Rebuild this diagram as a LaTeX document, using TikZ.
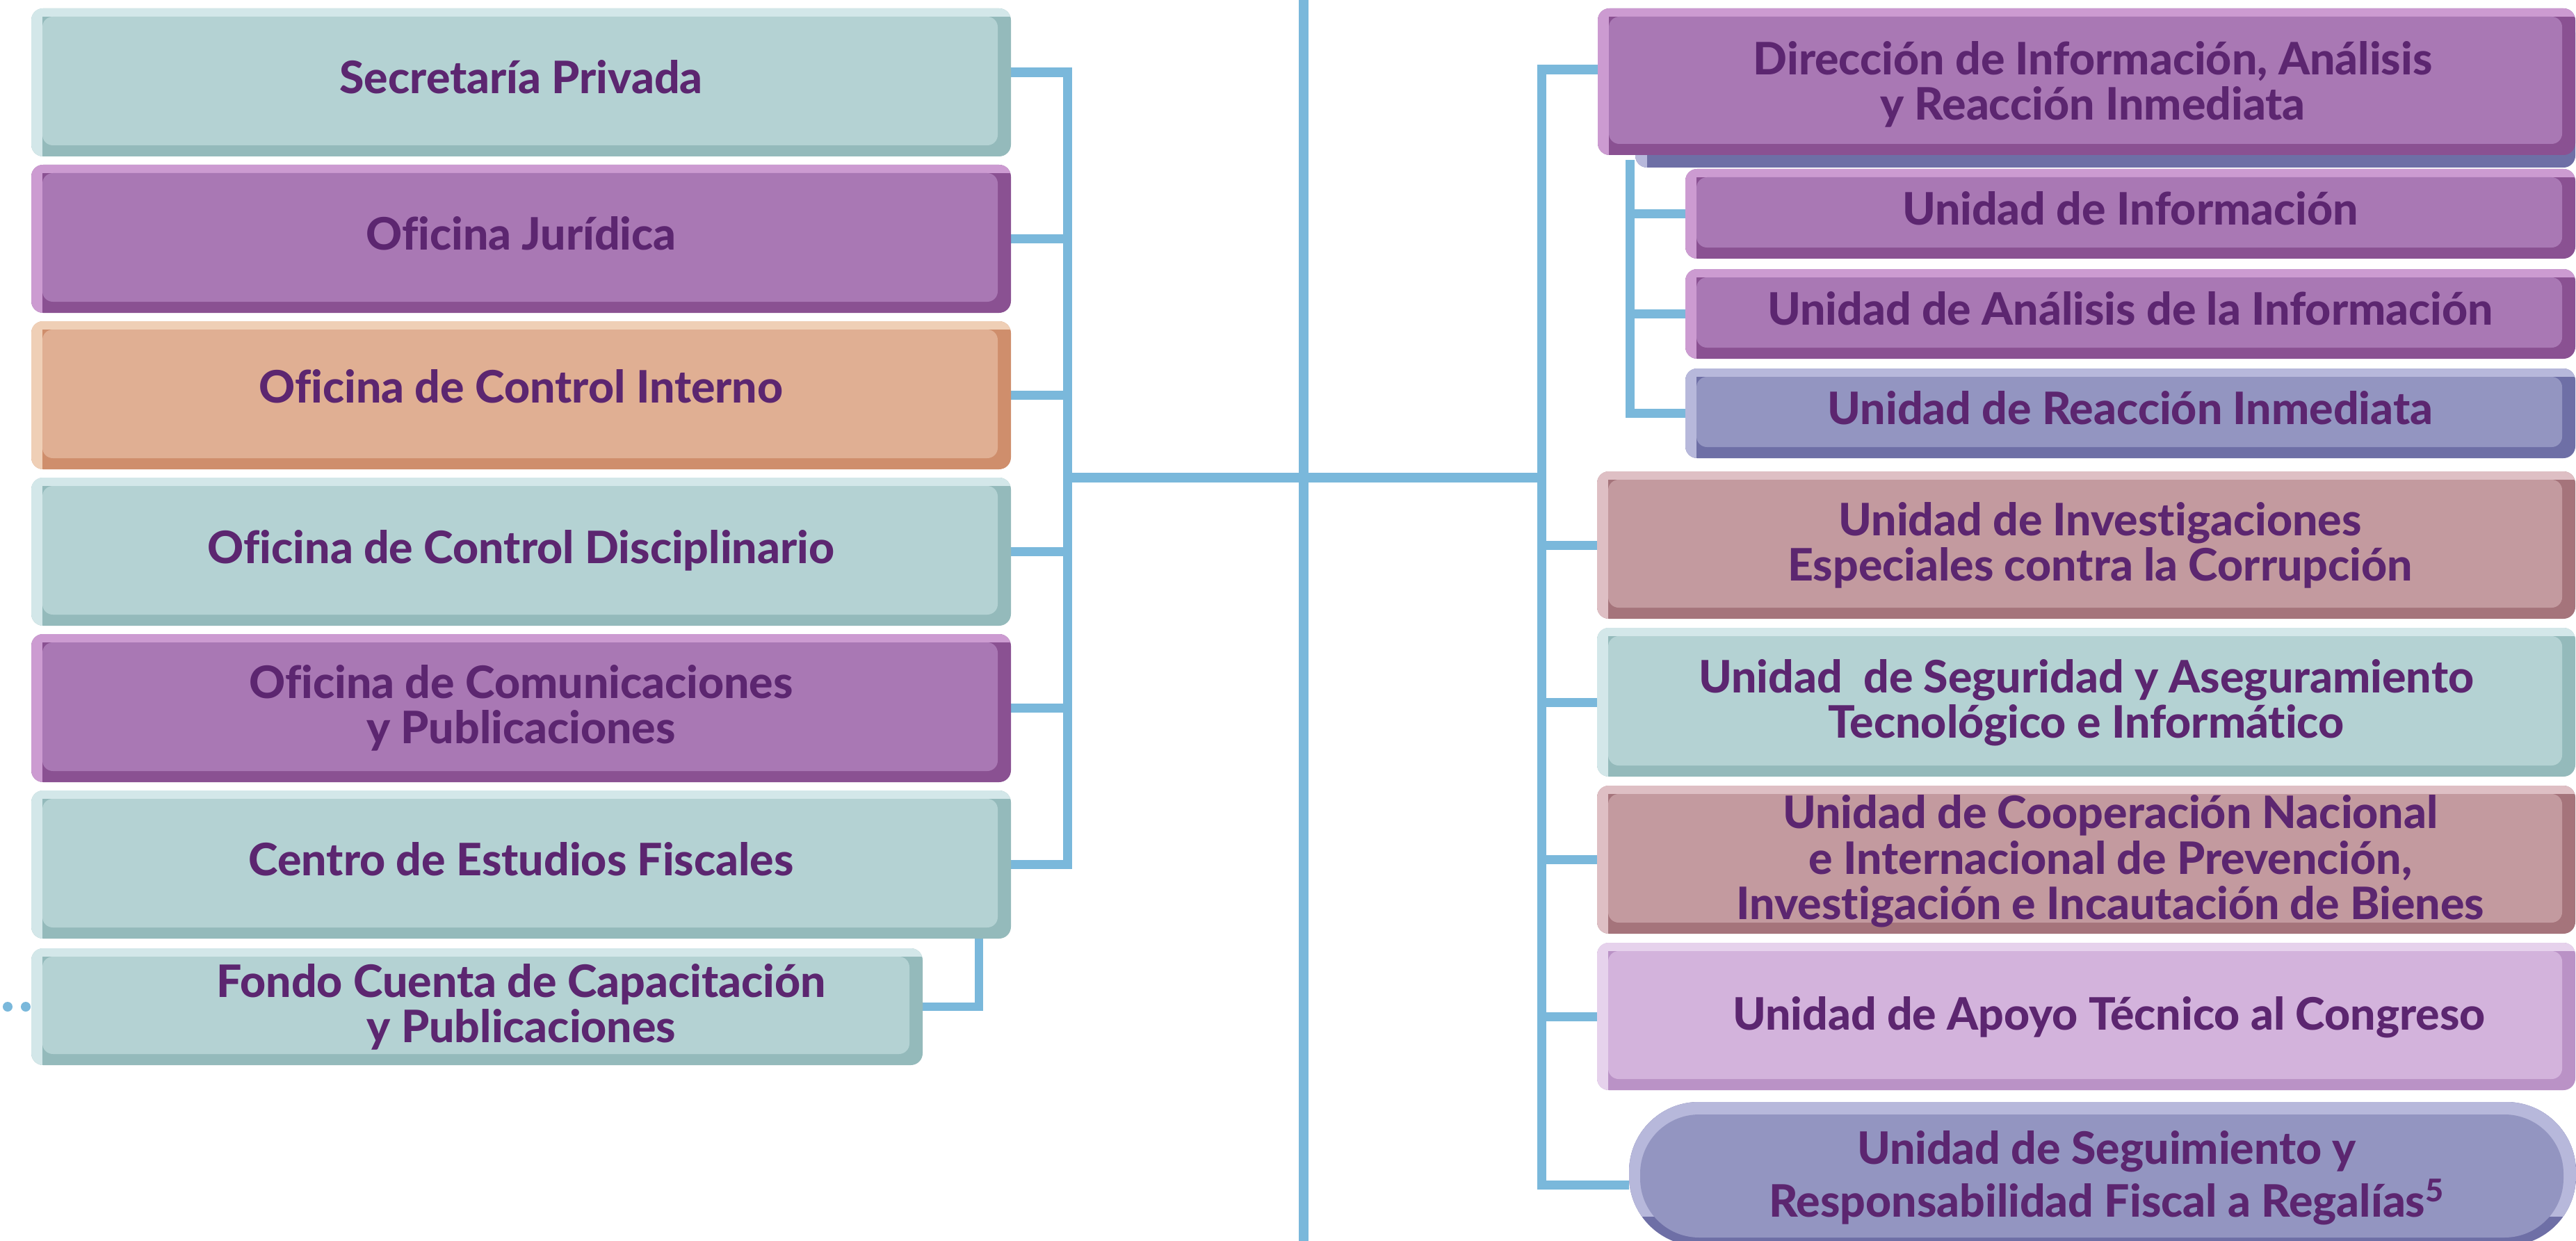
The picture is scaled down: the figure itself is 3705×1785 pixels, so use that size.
\documentclass[tikz,border=0pt]{standalone}
\usepackage{fontspec}
\setmainfont{Lato}[BoldFont={Lato Heavy}, Ligatures={NoCommon}]
\usetikzlibrary{calc}
\pgfdeclarelayer{bg}
\pgfsetlayers{bg,main}
\definecolor{lnblue}{HTML}{7AB8DB}
\definecolor{txt}{HTML}{5C2670}
\definecolor{tealF}{HTML}{B4D2D3}\definecolor{tealL}{HTML}{D3E7E9}\definecolor{tealD}{HTML}{94BABB}
\definecolor{purpF}{HTML}{A978B4}\definecolor{purpL}{HTML}{CC9BD1}\definecolor{purpD}{HTML}{8A5192}
\definecolor{oranF}{HTML}{E0AF93}\definecolor{oranL}{HTML}{EFCFB6}\definecolor{oranD}{HTML}{CF8E6C}
\definecolor{mauvF}{HTML}{C39A9F}\definecolor{mauvL}{HTML}{DEBFC4}\definecolor{mauvD}{HTML}{A5747B}
\definecolor{lilaF}{HTML}{D3B3DC}\definecolor{lilaL}{HTML}{E6D2EC}\definecolor{lilaD}{HTML}{BA92C6}
\definecolor{bluF}{HTML}{9395C1}\definecolor{bluL}{HTML}{B7B8DB}\definecolor{bluD}{HTML}{6E6FA6}
\tikzset{
  conn/.style={draw=lnblue, line width=0.13cm, line join=miter},
  boxnode/.style={rectangle, inner sep=0pt, outer sep=0pt},
  boxtext/.style={text=txt, font=\fontsize{18.3}{18.5}\selectfont\bfseries, align=center, inner sep=0pt},
  dotnode/.style={circle, fill=lnblue, inner sep=0pt, minimum size=0.14cm}
}
% name, x0, y0, x1, y1, scheme, dx, dy, text
\newcommand\gbox[9]{%
  \fill[#6D, rounded corners=0.17cm] (#2,#3) rectangle (#4,#5);
  \begin{scope}
    \clip[rounded corners=0.17cm] (#2,#3) rectangle (#4,#5);
    \fill[#6L] (#2,#3) rectangle (#4,#3+12);
    \fill[#6L] (#2,#3) rectangle (#2+16,#5);
  \end{scope}
  \fill[#6F, rounded corners=0.15cm] (#2+16,#3+12) rectangle (#4-19,#5-16);
  \node[boxnode, minimum width={(#4-#2)*0.01cm}, minimum height={(#5-#3)*0.01cm}] (#1) at ({(#2+#4)/2},{(#3+#5)/2}) {};
  \node[boxtext] (#1-t) at ({(#2+#4)/2+(#7)},{(#3+#5)/2+(#8)}) {\rule{0pt}{1em}#9\rule[-0.3em]{0pt}{0pt}};
}
\begin{document}
\begin{tikzpicture}[x=0.01cm, y=-0.01cm]
\useasboundingbox (0,0) rectangle (3705,1785);
% ---- left column
\gbox{sp}{45}{12}{1454}{225}{teal}{0}{-7}{Secretaría Privada}
\gbox{oj}{45}{237}{1454}{450}{purp}{0}{-7}{Oficina Jurídica}
\gbox{oci}{45}{462}{1454}{675}{oran}{0}{-12}{Oficina de Control Interno}
\gbox{ocd}{45}{687}{1454}{900}{teal}{0}{-6}{Oficina de Control Disciplinario}
\gbox{ocp}{45}{912}{1454}{1125}{purp}{0}{-4}{Oficina de Comunicaciones\\y Publicaciones}
\gbox{cef}{45}{1137}{1454}{1350}{teal}{0}{-7}{Centro de Estudios Fiscales}
\gbox{fcc}{45}{1364}{1327}{1532}{teal}{64}{-4}{Fondo Cuenta de Capacitación\\y Publicaciones}
\node[dotnode] (dot1) at (11,1448) {};
\node[dotnode] (dot2) at (37,1448) {};
% ---- right column
\fill[bluD, rounded corners=0.17cm] (2352,30) rectangle (3704,241);
\begin{scope}
  \clip[rounded corners=0.17cm] (2352,30) rectangle (3704,241);
  \fill[bluL] (2352,30) rectangle (2369,241);
\end{scope}
\gbox{dir}{2298}{12}{3704}{223}{purp}{9}{0}{Dirección de Información, Análisis\\y Reacción Inmediata}
\gbox{ui}{2424}{243}{3704}{372}{purp}{0}{-7}{Unidad de Información}
\gbox{ua}{2424}{387}{3704}{516}{purp}{0}{-7}{Unidad de Análisis de la Información}
\gbox{ur}{2424}{530}{3704}{659}{blu}{0}{-7}{Unidad de Reacción Inmediata}
\gbox{inv}{2297}{678}{3704}{890}{mauv}{20}{-4}{Unidad de Investigaciones\\Especiales contra la Corrupción}
\gbox{seg}{2297}{903}{3704}{1117}{teal}{0}{-4}{Unidad~ de Seguridad y Aseguramiento\\Tecnológico e Informático}
\gbox{coop}{2297}{1130}{3704}{1343}{mauv}{35}{-2}{Unidad de Cooperación Nacional\\e Internacional de Prevención,\\Investigación e Incautación de Bienes}
\gbox{apoyo}{2297}{1356}{3704}{1568}{lila}{33}{-3}{Unidad de Apoyo Técnico al Congreso}
% pill
\fill[bluD, rounded corners=1cm] (2343,1585) rectangle (3705,1792);
\begin{scope}
  \clip[rounded corners=1cm] (2343,1585) rectangle (3705,1792);
  \fill[bluL] (2343,1585) rectangle (3705,1750);
\end{scope}
\fill[bluF, rounded corners=0.85cm] (2359,1603) rectangle (3687,1780);
\node[boxnode, minimum width=13.62cm, minimum height=2.07cm] (segui) at (3024,1688.5) {};
\node[boxtext, font=\fontsize{18.3}{21.6}\selectfont\bfseries] (segui-t) at (3030,1690) {\rule{0pt}{1em}Unidad de Seguimiento y\\Responsabilidad Fiscal a Regalías\textsuperscript{5}\rule[-0.3em]{0pt}{0pt}};
% ---- connectors
\coordinate (LT) at (1535,104);
\coordinate (LM) at (1535,687);
\coordinate (RM) at (2217,687);
\coordinate (RT) at (2217,100);
\coordinate (RB) at (2217,1704);
\coordinate (ST) at (2344,230);
\coordinate (FB) at (1408,1448);
\coordinate (ctop) at (1875,0);
\coordinate (cbot) at (1875,1785);
\begin{pgfonlayer}{bg}
  \draw[conn, line width=0.14cm] (ctop) -- (cbot);
  \draw[conn, line width=0.14cm] (LM) -- (RM);
  \draw[conn] (sp.east |- LT) -- (LT) -- (LT |- cef.east) -- (cef.east);
  \foreach \n in {oj,oci,ocd,ocp} \draw[conn] (\n.east) -- (\n.east -| LT);
  \draw[conn, line width=0.12cm] (FB |- cef.south) -- (FB) -- (fcc.east);
  \draw[conn] (dir.west |- RT) -- (RT) -- (RB) -- (RB -| segui.west);
  \foreach \n in {inv,seg,coop,apoyo} \draw[conn] (\n.west) -- (\n.west -| RT);
  \draw[conn] (ST) -- (ST |- ur.west) -- (ur.west);
  \draw[conn] (ui.west -| ST) -- (ui.west);
  \draw[conn] (ua.west -| ST) -- (ua.west);
\end{pgfonlayer}
\end{tikzpicture}
\end{document}
